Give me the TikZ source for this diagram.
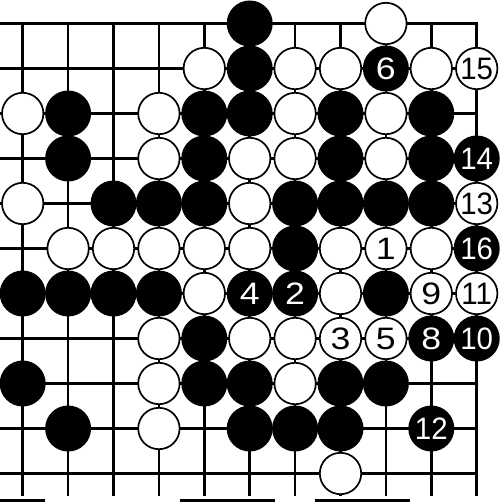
\documentclass[tikz,border=0pt]{standalone}
\usepackage{fontspec}
\setmainfont{Liberation Sans}
\usepackage{graphicx}
\tikzset{
  bstone/.style={circle, fill=black, draw=none, minimum size=46pt, inner sep=0pt, text=white},
  wstone/.style={circle, fill=white, draw=black, line width=1.7pt, minimum size=41.4pt, inner sep=0pt, text=black},
  gridline/.style={line width=2.6pt},
  edgeline/.style={line width=3pt, line join=miter},
  numfont/.style={font=\fontsize{31}{31}\selectfont},
  scrap/.style={fill=black},
}
\begin{document}
\begin{tikzpicture}[x=1pt,y=-1pt]
\useasboundingbox (0,0) rectangle (500,502);
\fill[white] (0,0) rectangle (500,502);
% grid
\foreach \r in {1,...,10} \draw[gridline] (0,{23.5+45*\r}) -- (476.7,{23.5+45*\r});
\foreach \c in {0,...,9} \draw[gridline] ({22.7+45.4*\c},23.5) -- ({22.7+45.4*\c},496);
\draw[edgeline] (0,23.5) -- (476.7,23.5) -- (476.7,496);
% scraps at the bottom edge
\fill[scrap] (0,498.5) rectangle (45,502);
\fill[scrap] (180,498.5) rectangle (275,502);
\fill[scrap] (315,498.5) rectangle (410,502);
% black stones
\foreach \c/\r in {5/0, 5/1, 1/2, 4/2, 5/2, 7/2, 9/2, 1/3, 4/3, 7/3, 9/3,
  2/4, 3/4, 4/4, 6/4, 7/4, 8/4, 9/4, 6/5, 0/6, 1/6, 2/6, 3/6, 8/6, 4/7,
  0/8, 4/8, 5/8, 7/8, 8/8, 1/9, 5/9, 6/9, 7/9}
  \node[bstone] (s\c-\r) at ({22.7+45.4*\c},{23.5+45*\r}) {};
\foreach \c/\r/\t/\s in {8/1/6/1.15, 10/3/14/0.95, 10/5/16/0.95, 5/6/4/1.15, 6/6/2/1.15,
  9/7/8/1.15, 10/7/10/0.95, 9/9/12/0.95}
  \node[bstone, numfont] (s\c-\r) at ({22.7+45.4*\c},{23.5+45*\r}) {\scalebox{\s}[1]{\t}};
% white stones
\foreach \c/\r in {8/0, 4/1, 6/1, 7/1, 9/1, 0/2, 3/2, 6/2, 8/2, 3/3, 5/3, 6/3, 8/3,
  0/4, 5/4, 1/5, 2/5, 3/5, 4/5, 5/5, 7/5, 9/5, 4/6, 7/6, 3/7, 5/7, 6/7,
  3/8, 6/8, 3/9, 7/10}
  \node[wstone] (s\c-\r) at ({22.7+45.4*\c},{23.5+45*\r}) {};
\foreach \c/\r/\t/\s in {10/1/15/0.95, 10/4/13/0.95, 8/5/1/1.15, 9/6/9/1.15, 10/6/11/0.95,
  7/7/3/1.15, 8/7/5/1.15}
  \node[wstone, numfont] (s\c-\r) at ({22.7+45.4*\c},{23.5+45*\r}) {\scalebox{\s}[1]{\t}};
\end{tikzpicture}
\end{document}
